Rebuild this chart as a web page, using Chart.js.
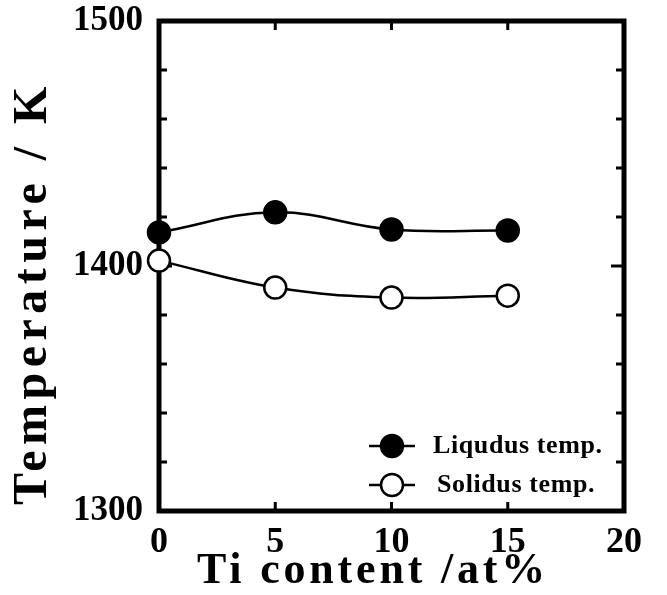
<!DOCTYPE html>
<html><head><meta charset="utf-8">
<script src="https://cdn.jsdelivr.net/npm/chart.js@4.4.0/dist/chart.umd.min.js"></script>
<style>html,body{margin:0;padding:0;background:#fff}</style>
</head><body>
<canvas id="c" width="667" height="595"></canvas>
<script>
// ---- data ----
const tiContent = [0, 5, 10, 15];
const liquidus  = [1413.7, 1421.9, 1414.9, 1414.5];
const solidus   = [1402.2, 1391.2, 1387.1, 1387.9];
const xTicks = [0, 5, 10, 15, 20];
const yTicks = [1300, 1400, 1500];
const yMinorTicks = [1320, 1340, 1360, 1380, 1420, 1440, 1460, 1480];
const seriesNames = ['Liqudus temp.', 'Solidus temp.'];
const xTitle = 'Ti content /at%';
const yTitle = 'Temperature / K';

const SERIF = '"Liberation Serif", "Times New Roman", serif';

const framePlugin = {
  id: 'frame',
  beforeDatasetsDraw(chart) {
    const {ctx, chartArea: a, scales: {x, y}} = chart;
    ctx.save();
    ctx.strokeStyle = '#000';
    ctx.lineCap = 'butt';
    ctx.lineWidth = 3;
    ctx.beginPath();
    xTicks.slice(1, -1).forEach(v => {
      const px = x.getPixelForValue(v);
      ctx.moveTo(px, a.bottom); ctx.lineTo(px, a.bottom - 9);
      ctx.moveTo(px, a.top); ctx.lineTo(px, a.top + 9);
    });
    yTicks.slice(1, -1).forEach(v => {
      const py = y.getPixelForValue(v);
      ctx.moveTo(a.left, py); ctx.lineTo(a.left + 13, py);
      ctx.moveTo(a.right, py); ctx.lineTo(a.right - 13, py);
    });
    yMinorTicks.forEach(v => {
      const py = y.getPixelForValue(v);
      ctx.moveTo(a.left, py); ctx.lineTo(a.left + 8, py);
      ctx.moveTo(a.right, py); ctx.lineTo(a.right - 8, py);
    });
    ctx.stroke();
    ctx.lineWidth = 5;
    ctx.strokeRect(a.left, a.top, a.right - a.left, a.bottom - a.top);
    ctx.restore();
  },
  afterDraw(chart) {
    const {ctx} = chart;
    ctx.save();
    ctx.fillStyle = '#000';
    ctx.textAlign = 'center';
    ctx.textBaseline = 'alphabetic';
    // x axis title
    ctx.font = 'bold 44px ' + SERIF;
    ctx.letterSpacing = '3.8px';
    ctx.fillText(xTitle, 373, 583);
    // y axis title
    ctx.save();
    ctx.font = 'bold 48px ' + SERIF;
    ctx.letterSpacing = '5.5px';
    ctx.translate(46, 293);
    ctx.rotate(-Math.PI / 2);
    ctx.fillText(yTitle, 0, 0);
    ctx.restore();
    // legend
    ctx.letterSpacing = '0.6px';
    const rows = [446, 485];
    chart.data.datasets.forEach((ds, i) => {
      const yy = rows[i];
      ctx.strokeStyle = '#000';
      ctx.lineWidth = 2.5;
      ctx.beginPath(); ctx.moveTo(369, yy); ctx.lineTo(415, yy); ctx.stroke();
      ctx.beginPath(); ctx.arc(392, yy, ds.pointRadius, 0, Math.PI * 2);
      ctx.fillStyle = ds.pointBackgroundColor; ctx.fill();
      ctx.lineWidth = ds.pointBorderWidth; ctx.stroke();
      ctx.fillStyle = '#000';
      ctx.font = 'bold 26px ' + SERIF;
      ctx.textAlign = 'left';
      ctx.textBaseline = 'middle';
      ctx.fillText(ds.label, i === 0 ? 433 : 437, yy);
    });
    ctx.restore();
  }
};

const mk = (vals) => tiContent.map((t, i) => ({x: t, y: vals[i]}));

new Chart(document.getElementById('c'), {
  type: 'line',
  data: {
    datasets: [
      {label: seriesNames[0], data: mk(liquidus), borderColor: '#000', borderWidth: 2.5,
       pointRadius: 11, pointBackgroundColor: '#000', pointBorderColor: '#000', pointBorderWidth: 2.5,
       tension: 0.4, clip: false},
      {label: seriesNames[1], data: mk(solidus), borderColor: '#000', borderWidth: 2.5,
       pointRadius: 11, pointBackgroundColor: '#fff', pointBorderColor: '#000', pointBorderWidth: 2.5,
       tension: 0.4, clip: false}
    ]
  },
  options: {
    responsive: false,
    animation: false,
    devicePixelRatio: 1,
    layout: {padding: {top: 21, right: 43, left: 0, bottom: 0}},
    plugins: {legend: {display: false}, tooltip: {enabled: false}},
    scales: {
      x: {
        type: 'linear', min: 0, max: 20,
        afterBuildTicks: s => { s.ticks = xTicks.map(v => ({value: v})); },
        afterFit: s => { s.height = 84; s.paddingLeft = 0; s.paddingRight = 0; },
        grid: {display: false}, border: {display: false},
        ticks: {color: '#000', padding: 2, callback: v => String(v),
                font: {family: SERIF, size: 36, weight: 'bold'}}
      },
      y: {
        type: 'linear', min: 1300, max: 1500,
        afterBuildTicks: s => { s.ticks = yTicks.map(v => ({value: v})); },
        afterFit: s => { s.width = 159; s.paddingTop = 0; s.paddingBottom = 0; },
        grid: {display: false}, border: {display: false},
        ticks: {color: '#000', padding: 8, callback: v => String(v),
                font: {family: SERIF, size: 35, weight: 'bold'}}
      }
    }
  },
  plugins: [framePlugin]
});
</script>
</body></html>
